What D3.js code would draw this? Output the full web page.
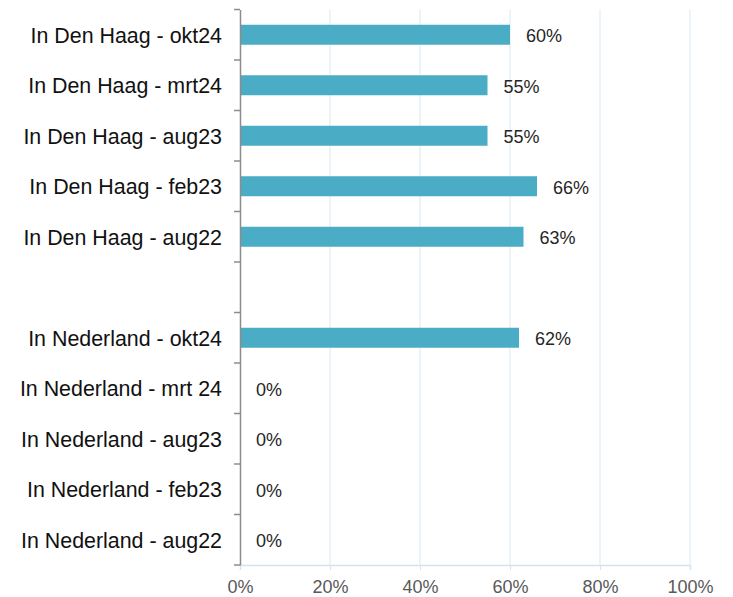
<!DOCTYPE html>
<meta charset="utf-8">
<style>
    body { margin: 0; background: #fff; }
    svg { font-family: "Liberation Sans", Arial, sans-serif; }
</style>
<body>
<svg width="733" height="597"></svg>
<script src="https://d3js.org/d3.v7.min.js"></script>
<script>
    // categories top to bottom, "" = empty spacer row
    var categories = [
        "In Den Haag - okt24",
        "In Den Haag - mrt24",
        "In Den Haag - aug23",
        "In Den Haag - feb23",
        "In Den Haag - aug22",
        "",
        "In Nederland - okt24",
        "In Nederland - mrt 24",
        "In Nederland - aug23",
        "In Nederland - feb23",
        "In Nederland - aug22"
    ];
    var values = [60, 55, 55, 66, 63, null, 62, 0, 0, 0, 0];
    var xTicks = [0, 20, 40, 60, 80, 100];

    var svg = d3.select("svg");
    var margin = { top: 9.5, right: 43, bottom: 32, left: 240 },
        width = 690 - margin.left,
        height = 565 - margin.top;

    var x = d3.scaleLinear().domain([0, 100]).range([0, width]);
    var y = d3.scaleBand().domain(d3.range(categories.length)).range([0, height]);

    var g = svg.append("g")
        .attr("transform", "translate(" + margin.left + "," + margin.top + ")");

    // gridlines
    g.append("g").selectAll("line")
        .data(xTicks.slice(1))
        .enter().append("line")
        .attr("x1", function (d) { return x(d); })
        .attr("x2", function (d) { return x(d); })
        .attr("y1", 0)
        .attr("y2", height)
        .attr("stroke", "#d9e9f3")
        .attr("stroke-width", 1);

    // x axis
    var xAxis = d3.axisBottom(x)
        .tickValues(xTicks)
        .tickSize(5)
        .tickFormat(function (d) { return d + "%"; });
    var xg = g.append("g")
        .attr("transform", "translate(0," + height + ")")
        .call(xAxis);
    xg.select(".domain").attr("stroke", "#d3e4f1").attr("stroke-width", 1.5);
    xg.selectAll(".tick line").attr("stroke", "#d3e4f1");
    xg.selectAll(".tick text")
        .attr("fill", "#595959")
        .attr("font-size", "18px")
        .attr("font-family", "Liberation Sans, Arial, sans-serif")
        .attr("y", 15)
        .attr("dy", "0.71em");

    // bars
    var bh = 20;
    g.append("g").selectAll("rect")
        .data(values.map(function (v, i) { return { i: i, v: v }; }).filter(function (d) { return d.v !== null; }))
        .enter().append("rect")
        .attr("x", 0)
        .attr("y", function (d) { return y(d.i) + y.bandwidth() / 2 - bh / 2; })
        .attr("width", function (d) { return x(d.v); })
        .attr("height", bh)
        .attr("fill", "#4bacc6");

    // value labels
    g.append("g").selectAll("text")
        .data(values.map(function (v, i) { return { i: i, v: v }; }).filter(function (d) { return d.v !== null; }))
        .enter().append("text")
        .attr("x", function (d) { return x(d.v) + 16; })
        .attr("y", function (d) { return y(d.i) + y.bandwidth() / 2 + 1; })
        .attr("dy", "0.35em")
        .attr("font-size", "18px")
        .attr("fill", "#262626")
        .text(function (d) { return d.v + "%"; });

    // y axis
    var yAxis = d3.axisLeft(y)
        .tickSize(0)
        .tickPadding(18)
        .tickFormat(function (i) { return categories[i]; });
    var yg = g.append("g").call(yAxis);
    yg.select(".domain").attr("stroke", "#8c8c8c").attr("stroke-width", 1.5);
    yg.selectAll(".tick text")
        .attr("fill", "#111")
        .attr("font-size", "21.4px")
        .attr("dy", "0.38em")
        .attr("font-family", "Liberation Sans, Arial, sans-serif");

    // category separator ticks
    yg.append("g").selectAll("line")
        .data(d3.range(categories.length + 1))
        .enter().append("line")
        .attr("x1", -6)
        .attr("x2", 0)
        .attr("y1", function (i) { return i * y.step(); })
        .attr("y2", function (i) { return i * y.step(); })
        .attr("stroke", "#8c8c8c")
        .attr("stroke-width", 1.5);
</script>
</body>
